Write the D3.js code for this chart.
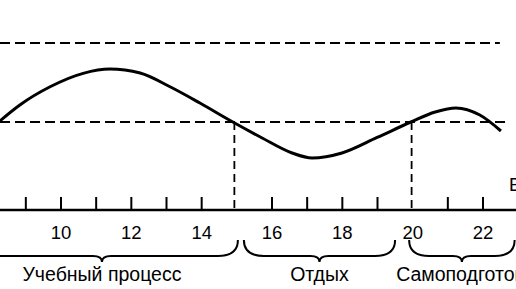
<!DOCTYPE html>
<html><head><meta charset="utf-8">
<script src="https://cdn.jsdelivr.net/npm/d3@7"></script>
<style>body{margin:0;background:#fff}svg{display:block}</style>
</head><body><svg id="c" width="516" height="289"></svg>
<script>
// Data
const hours = [8.2, 8.83, 9.69, 10.63, 11.39, 12.25, 13.1, 13.95, 14.86, 15.72, 16.57, 17.14, 17.99, 18.99, 19.95, 20.64, 21.23, 21.91, 22.51];
const capacity = [49.5, 60.8, 72.3, 80.8, 83.5, 81, 72.3, 62, 50.3, 39.9, 30.4, 27.2, 30.4, 40.2, 50, 56.3, 58.9, 54.4, 44.3];
const tickHours = [9, 10, 11, 12, 13, 14, 16, 17, 18, 19, 21, 22];
const tickLabels = [10, 12, 14, 16, 18, 20, 22];
const levelValues = [100, 50];
const levelEnds = [22.48, 22.65];
const crossingHours = [14.93, 19.97];
const periodLabels = ["Учебный процесс", "Отдых", "Самоподготовка"];
const periodStart = [7.3, 15.2, 19.9];
const periodEnd = [15.03, 19.5, 22.9];
const axisTitle = "Время, ч";

const svg = d3.select("#c");
const x = d3.scaleLinear().domain([10, 22]).range([61, 483]);
const y = d3.scaleLinear().domain([50, 100]).range([122, 43]);
const axisY = 210;
const font = "'Liberation Sans', Arial, sans-serif";

// horizontal dashed levels
svg.selectAll(".lvl").data(levelValues).enter().append("line")
  .attr("x1", 0).attr("x2", (d, i) => x(levelEnds[i]))
  .attr("y1", d => y(d)).attr("y2", d => y(d))
  .attr("stroke", "#000").attr("stroke-width", 2).attr("stroke-dasharray", "10,5");

// vertical dashed lines at crossings
svg.selectAll(".vl").data(crossingHours).enter().append("line")
  .attr("x1", d => x(d)).attr("x2", d => x(d))
  .attr("y1", y(50)).attr("y2", axisY)
  .attr("stroke", "#000").attr("stroke-width", 1.8).attr("stroke-dasharray", "8,5");

// curve
const pts = hours.map((h, i) => [h, capacity[i]]);
svg.append("path").datum(pts)
  .attr("d", d3.line().x(d => x(d[0])).y(d => y(d[1])).curve(d3.curveMonotoneX))
  .attr("fill", "none").attr("stroke", "#000").attr("stroke-width", 3).attr("stroke-linejoin", "round");

// axis line
svg.append("line").attr("x1", 0).attr("x2", 516).attr("y1", axisY).attr("y2", axisY)
  .attr("stroke", "#000").attr("stroke-width", 2.5);
svg.selectAll(".tk").data(tickHours).enter().append("line")
  .attr("x1", d => x(d)).attr("x2", d => x(d)).attr("y1", axisY - 13).attr("y2", axisY)
  .attr("stroke", "#000").attr("stroke-width", 2);
svg.selectAll(".tl").data(tickLabels).enter().append("text")
  .attr("x", d => x(d)).attr("y", 239).attr("text-anchor", "middle")
  .attr("font-family", font).attr("font-size", 18.5).text(d => d);

// axis title
svg.append("text").attr("x", 509).attr("y", 191).attr("font-family", font).attr("font-size", 18.5).text(axisTitle);

// braces
function brace(x1, x2) {
  const yt = 240, yh = 256, yp = 262, r = 20, m = (x1 + x2) / 2, t = 9;
  return `M${x1},${yt} Q${x1},${yh} ${x1 + r},${yh} L${m - t},${yh} Q${m},${yh} ${m},${yp} Q${m},${yh} ${m + t},${yh} L${x2 - r},${yh} Q${x2},${yh} ${x2},${yt}`;
}
svg.selectAll(".br").data(periodLabels).enter().append("path")
  .attr("d", (d, i) => brace(x(periodStart[i]), x(periodEnd[i])))
  .attr("fill", "none").attr("stroke", "#000").attr("stroke-width", 2);
svg.selectAll(".pl").data(periodLabels).enter().append("text")
  .attr("x", (d, i) => i === 2 ? x(periodStart[i]) - 13 : (x(periodStart[i]) + x(periodEnd[i])) / 2)
  .attr("y", 281)
  .attr("text-anchor", (d, i) => i === 2 ? "start" : "middle")
  .attr("font-family", font).attr("font-size", 19.5).text(d => d);
</script></body></html>
